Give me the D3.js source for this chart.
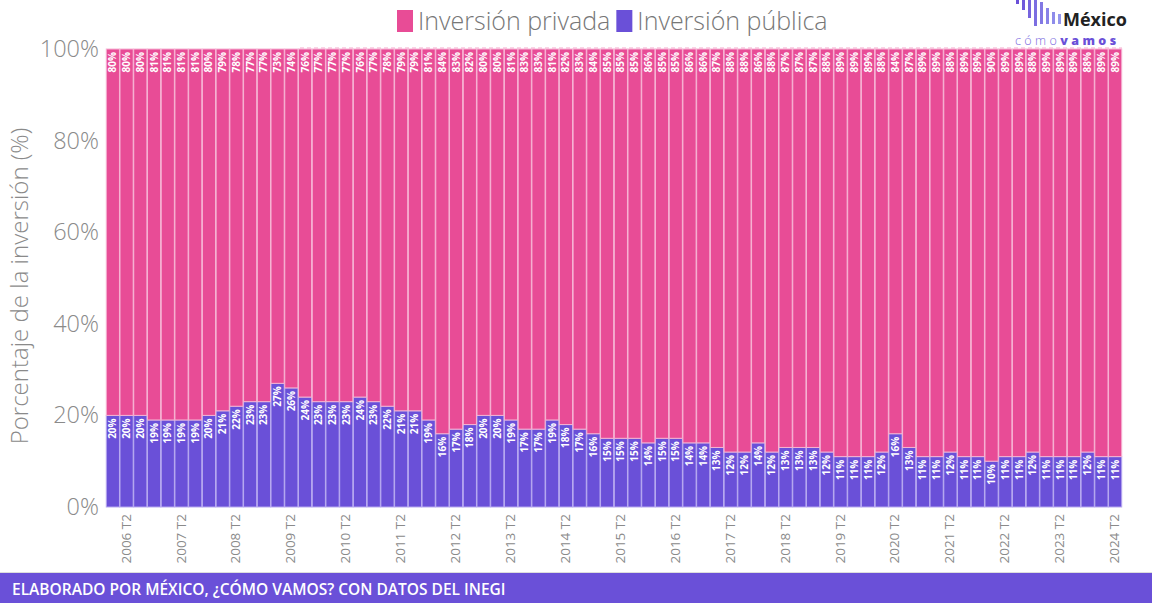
<!DOCTYPE html>
<html>
<head>
<meta charset="utf-8">
<script src="https://cdn.jsdelivr.net/npm/d3@7"></script>
<style>
  html, body { margin: 0; padding: 0; background: #ffffff; }
  svg { display: block; font-family: "Open Sans", "Noto Sans", sans-serif; }
</style>
</head>
<body>
<svg id="chart" width="1152" height="603"></svg>
<script>
const categories = [
  "2006 T1","2006 T2","2006 T3","2006 T4",
  "2007 T1","2007 T2","2007 T3","2007 T4",
  "2008 T1","2008 T2","2008 T3","2008 T4",
  "2009 T1","2009 T2","2009 T3","2009 T4",
  "2010 T1","2010 T2","2010 T3","2010 T4",
  "2011 T1","2011 T2","2011 T3","2011 T4",
  "2012 T1","2012 T2","2012 T3","2012 T4",
  "2013 T1","2013 T2","2013 T3","2013 T4",
  "2014 T1","2014 T2","2014 T3","2014 T4",
  "2015 T1","2015 T2","2015 T3","2015 T4",
  "2016 T1","2016 T2","2016 T3","2016 T4",
  "2017 T1","2017 T2","2017 T3","2017 T4",
  "2018 T1","2018 T2","2018 T3","2018 T4",
  "2019 T1","2019 T2","2019 T3","2019 T4",
  "2020 T1","2020 T2","2020 T3","2020 T4",
  "2021 T1","2021 T2","2021 T3","2021 T4",
  "2022 T1","2022 T2","2022 T3","2022 T4",
  "2023 T1","2023 T2","2023 T3","2023 T4",
  "2024 T1","2024 T2"
];
const publica = [
  20,20,20,19, 19,19,19,20, 21,22,23,23, 27,26,24,23,
  23,23,24,23, 22,21,21,19, 16,17,18,20, 20,19,17,17,
  19,18,17,16, 15,15,15,14, 15,15,14,14, 13,12,12,14,
  12,13,13,13, 12,11,11,11, 12,16,13,11, 11,12,11,11,
  10,11,11,12, 11,11,11,12, 11,11
];
const privada = [
  80,80,80,81, 81,81,81,80, 79,78,77,77, 73,74,76,77,
  77,77,76,77, 78,79,79,81, 84,83,82,80, 80,81,83,83,
  81,82,83,84, 85,85,85,86, 85,85,86,86, 87,88,88,86,
  88,87,87,87, 88,89,89,89, 88,84,87,89, 89,88,89,89,
  90,89,89,88, 89,89,89,88, 89,89
];
const seriesNames = ["Inversión privada", "Inversión pública"];
const yTicks = [0, 20, 40, 60, 80, 100];
const yTickLabels = ["0%", "20%", "40%", "60%", "80%", "100%"];
const shownXLabels = ["2006 T2","2007 T2","2008 T2","2009 T2","2010 T2","2011 T2","2012 T2","2013 T2","2014 T2","2015 T2","2016 T2","2017 T2","2018 T2","2019 T2","2020 T2","2021 T2","2022 T2","2023 T2","2024 T2"];

(function () {
const PINK = "#e84c96";
const PURPLE = "#6a50d8";
const GRAY = "#8a8a8a";

const svg = d3.select("#chart");
const pLeft = 106, pRight = 1122, pTop = 49, pBottom = 507;

const x = d3.scaleBand().domain(categories).range([pLeft, pRight]).paddingInner(0.04).paddingOuter(0.02);
const y = d3.scaleLinear().domain([0, 100]).range([pBottom, pTop]);

const rows = categories.map((c, i) => ({ cat: c, pub: publica[i], priv: privada[i] }));
const stack = d3.stack().keys(["pub", "priv"])(rows);

// dashed top line
svg.append("line")
  .attr("x1", 300).attr("x2", pRight).attr("y1", pTop - 1).attr("y2", pTop - 1)
  .attr("stroke", "#f4a9cc").attr("stroke-width", 1).attr("stroke-dasharray", "4,3");

// bars
const colors = { pub: PURPLE, priv: PINK };
const strokes = { pub: "#b7a9f0", priv: "#f6b3d3" };
stack.forEach(layer => {
  const g = svg.append("g");
  g.selectAll("rect").data(layer).join("rect")
    .attr("x", d => x(d.data.cat))
    .attr("width", x.bandwidth())
    .attr("y", d => y(d[1]))
    .attr("height", d => y(d[0]) - y(d[1]))
    .attr("fill", colors[layer.key])
    .attr("stroke", strokes[layer.key])
    .attr("stroke-width", 1);
  g.selectAll("text").data(layer).join("text")
    .attr("transform", d => `translate(${x(d.data.cat) + x.bandwidth() / 2 + 3.5},${y(d[1]) + 3}) rotate(-90)`)
    .attr("text-anchor", "end")
    .attr("font-size", 10)
    .attr("font-weight", 700)
    .attr("fill", "#ffffff")
    .text(d => (d[1] - d[0]) + "%");
});

// y axis
const yAxis = d3.axisLeft(y).tickValues(yTicks).tickFormat((d, i) => yTickLabels[i]).tickSize(0).tickPadding(7);
const yg = svg.append("g").attr("transform", `translate(${pLeft},0)`).call(yAxis);
yg.select(".domain").remove();
yg.selectAll("text").attr("font-size", 23.5).attr("fill", GRAY).attr("font-family", "'Open Sans', sans-serif").attr("font-weight", 300);

// x axis
const xAxis = d3.axisBottom(x).tickValues(shownXLabels).tickSize(0).tickPadding(0);
const xg = svg.append("g").attr("transform", `translate(0,${pBottom})`).call(xAxis);
xg.select(".domain").remove();
xg.selectAll("text")
  .attr("font-size", 13.5)
  .attr("fill", GRAY)
  .attr("font-family", "'Open Sans', sans-serif")
  .attr("text-anchor", "end")
  .attr("dy", null)
  .attr("y", null)
  .attr("transform", "translate(4,7) rotate(-90)");

// y title
svg.append("text")
  .attr("transform", `translate(28,${(pTop + pBottom) / 2 + 8}) rotate(-90)`)
  .attr("text-anchor", "middle")
  .attr("font-size", 24)
  .attr("font-weight", 300)
  .attr("fill", GRAY)
  .text("Porcentaje de la inversión (%)");

// legend
let lx = 397;
[{ name: seriesNames[0], color: PINK }, { name: seriesNames[1], color: PURPLE }].forEach(l => {
  svg.append("rect").attr("x", lx).attr("y", 10).attr("width", 16).attr("height", 22).attr("fill", l.color);
  const t = svg.append("text").attr("x", lx + 21).attr("y", 30).attr("font-size", 25).attr("font-weight", 300)
    .attr("fill", "#777").text(l.name);
  lx = lx + 21 + t.node().getComputedTextLength() + 6;
});

// logo
const logoBars = [[1016, 0, 4], [1022, 0, 10], [1028, 0, 18], [1034, 0, 26], [1040, 2, 22], [1046, 8, 16], [1052, 12, 12], [1058, 14, 10]];
logoBars.forEach((b, i) => {
  svg.append("rect").attr("x", b[0]).attr("y", b[1]).attr("width", 3).attr("height", b[2])
    .attr("fill", d3.interpolateRgb("#6a50d8", "#9aa0f0")(i / 8));
});
svg.append("text").attr("x", 1063).attr("y", 26).attr("font-size", 18).attr("font-weight", 700)
  .attr("fill", "#222").text("México");
const cv = svg.append("text").attr("x", 1015).attr("y", 45).attr("font-size", 12.5).attr("letter-spacing", 3.4);
cv.append("tspan").attr("fill", "#7b6be0").attr("font-weight", 300).text("cómo");
cv.append("tspan").attr("fill", "#6a50d8").attr("font-weight", 800).text("vamos");

// footer
svg.append("line").attr("x1", 0).attr("x2", 1152).attr("y1", 572.5).attr("y2", 572.5).attr("stroke", "#dddddd");
svg.append("rect").attr("x", 0).attr("y", 573).attr("width", 1152).attr("height", 30).attr("fill", PURPLE);
svg.append("text").attr("x", 12).attr("y", 595).attr("font-size", 15.5).attr("font-weight", 600)
  .attr("fill", "#ffffff").text("ELABORADO POR MÉXICO, ¿CÓMO VAMOS? CON DATOS DEL INEGI");
})();
</script>
</body>
</html>
